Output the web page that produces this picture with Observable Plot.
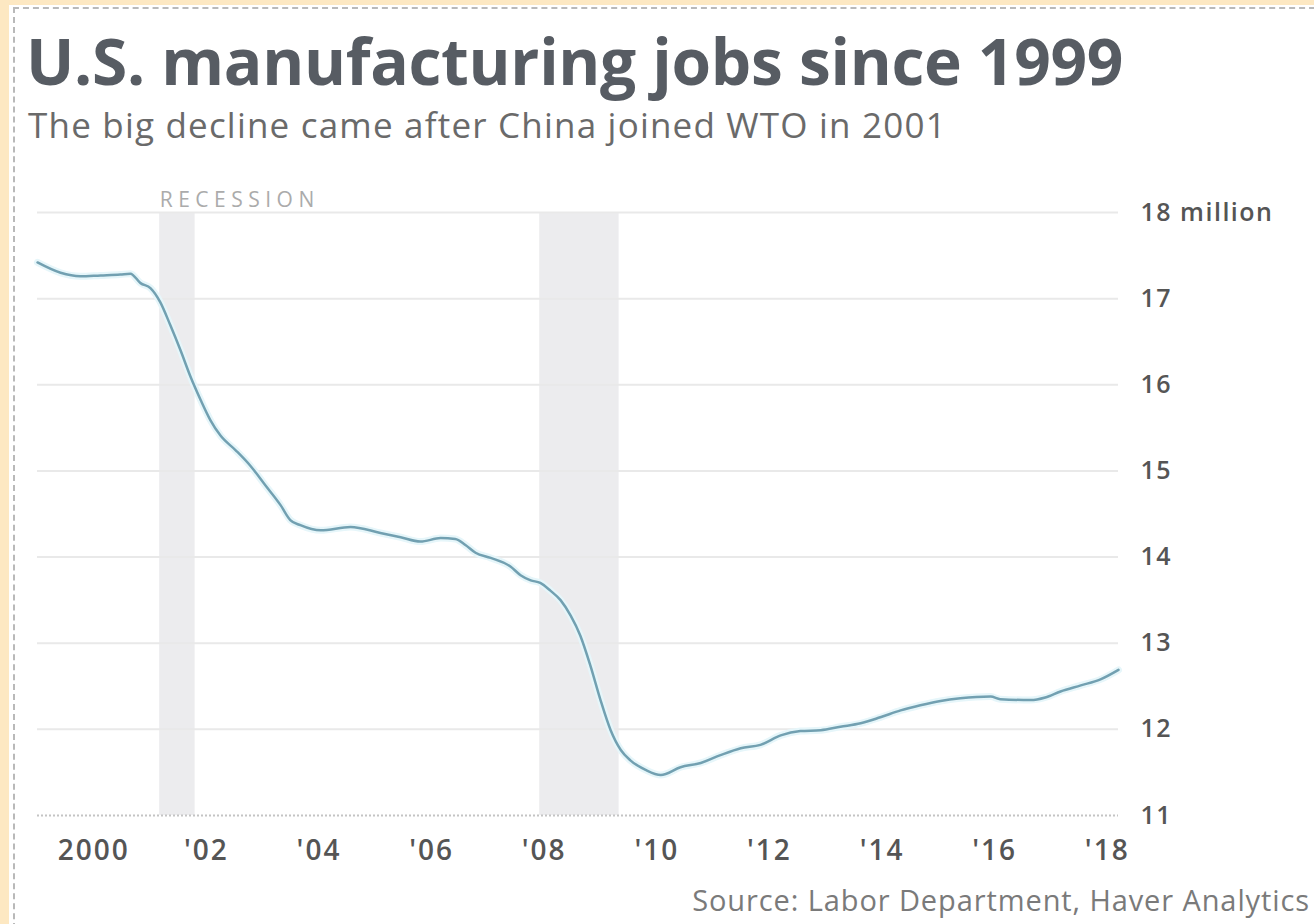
<!DOCTYPE html>
<html>
<head>
<meta charset="utf-8">
<script src="https://cdn.jsdelivr.net/npm/d3@7"></script>
<script src="https://cdn.jsdelivr.net/npm/@observablehq/plot@0.6"></script>
<style>
  html, body { margin: 0; padding: 0; background: #fde8c2; width: 1314px; height: 924px; overflow: hidden; }
  #panel { position: absolute; left: 9px; top: 5px; width: 1305px; height: 919px; background: #ffffff; }
  #border { position: absolute; left: 13px; top: 7px; width: 1320px; height: 940px; border-top: 2px dashed #b9b9b9; border-left: 2px dashed #b9b9b9; }
  #title { position: absolute; left: 26px; top: 17px; font-family: "Open Sans", sans-serif; font-weight: 700; font-size: 64px; color: #575c63; white-space: nowrap; letter-spacing: -0.3px; }
  #subtitle { position: absolute; left: 28px; top: 101px; font-family: "Open Sans", sans-serif; font-weight: 400; font-size: 35px; color: #6a6a6a; white-space: nowrap; letter-spacing: 1.2px; }
  #chart { position: absolute; left: 0; top: 160px; }
  #source { position: absolute; right: 4px; top: 880px; font-family: "Open Sans", sans-serif; font-size: 29px; color: #7a7a7a; white-space: nowrap; letter-spacing: 0.9px; }
  .rec-label { letter-spacing: 5.5px; }
  .ylab text { letter-spacing: 1.5px; }
  .xlab text { letter-spacing: 2px; }
</style>
</head>
<body>
<div id="panel"></div>
<div id="border"></div>
<div id="title">U.S. manufacturing jobs since 1999</div>
<div id="subtitle">The big decline came after China joined WTO in 2001</div>
<div id="chart"></div>
<div id="source">Source: Labor Department, Haver Analytics</div>
<script>
// Decimal year and manufacturing jobs (millions)
const years = [1999.00,1999.41,1999.76,2000.12,2000.47,2000.65,2000.83,2001.01,2001.18,2001.36,2001.54,2001.72,2001.90,2002.07,2002.25,2002.52,2002.78,2003.05,2003.32,2003.49,2003.67,2004.03,2004.56,2005.09,2005.45,2005.80,2006.16,2006.42,2006.60,2006.78,2007.05,2007.40,2007.58,2007.76,2007.93,2008.11,2008.29,2008.47,2008.64,2008.82,2009.00,2009.18,2009.36,2009.53,2009.80,2010.07,2010.42,2010.78,2011.13,2011.49,2011.84,2012.20,2012.55,2012.91,2013.26,2013.62,2013.97,2014.33,2014.68,2015.04,2015.39,2015.93,2016.10,2016.64,2016.90,2017.17,2017.53,2017.88,2018.20];
const jobs = [17.42,17.30,17.26,17.27,17.28,17.29,17.18,17.12,16.96,16.69,16.40,16.09,15.82,15.59,15.41,15.24,15.06,14.83,14.60,14.43,14.37,14.31,14.35,14.28,14.23,14.18,14.22,14.21,14.14,14.05,13.99,13.89,13.79,13.73,13.70,13.61,13.50,13.32,13.09,12.74,12.34,11.99,11.76,11.64,11.53,11.47,11.56,11.61,11.70,11.78,11.82,11.93,11.98,11.99,12.03,12.07,12.14,12.22,12.28,12.33,12.36,12.38,12.35,12.34,12.37,12.44,12.51,12.58,12.69];

// Recessions (start, end as decimal years)
const recessionStart = [2001.17, 2007.92];
const recessionEnd = [2001.80, 2009.33];
const recessionLabel = ["RECESSION", ""];

// Axis ticks
const xTicks = [2000,2002,2004,2006,2008,2010,2012,2014,2016,2018];
const yTicks = [11,12,13,14,15,16,17,18];

const series = years.map((y, i) => ({year: y, jobs: jobs[i]}));
const recessions = recessionStart.map((s, i) => ({start: s, end: recessionEnd[i], label: recessionLabel[i]}));

const xFmt = d => d === 2000 ? "2000" : "'" + String(d).slice(2);
const yFmt = d => d === 18 ? "18 million" : String(d);

const chart = Plot.plot({
  width: 1314,
  height: 720,
  marginLeft: 37,
  marginRight: 196,
  marginTop: 52,
  marginBottom: 65,
  style: {fontFamily: "'Open Sans', sans-serif", background: "transparent", overflow: "visible"},
  x: {domain: [1999.0, 2018.2], label: null},
  y: {domain: [11, 18], label: null},
  marks: [
    Plot.rect(recessions, {x1: "start", x2: "end", y1: 11, y2: 18, fill: "#ececee"}),
    Plot.ruleY(yTicks.filter(d => d > 11), {stroke: "#e9e9e9", strokeWidth: 2}),
    Plot.ruleY([11], {stroke: "#c4c4c4", strokeWidth: 2, strokeDasharray: "2,2"}),
    Plot.text(recessions.filter(d => d.label), {x: "start", y: 18, text: "label", textAnchor: "start", dy: -12, fontSize: 21, fill: "#ababab", className: "rec-label"}),
    Plot.line(series, {x: "year", y: "jobs", curve: "monotone-x", stroke: "#e6f6fa", strokeWidth: 7}),
    Plot.line(series, {x: "year", y: "jobs", curve: "monotone-x", stroke: "#72a0b1", strokeWidth: 2.5}),
    Plot.axisY(yTicks, {anchor: "right", tickSize: 0, tickPadding: 22, fontSize: 25, fontWeight: 600, fill: "#555", textAnchor: "start", tickFormat: yFmt, className: "ylab"}),
    Plot.axisX(xTicks, {anchor: "bottom", tickSize: 0, tickPadding: 25, fontSize: 28, fontWeight: 600, fill: "#555", tickFormat: xFmt, className: "xlab"})
  ]
});
document.getElementById("chart").appendChild(chart);
</script>
</body>
</html>
